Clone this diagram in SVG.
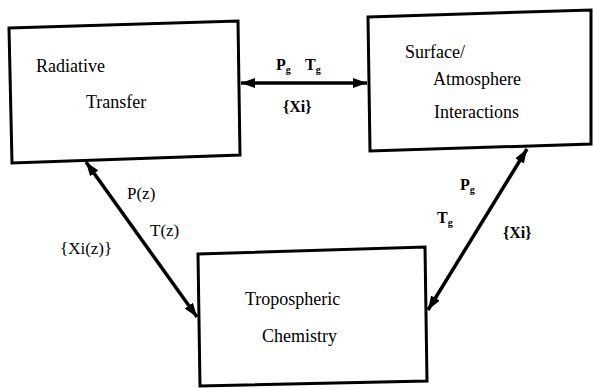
<svg xmlns="http://www.w3.org/2000/svg" width="593" height="388" viewBox="0 0 593 388">
<defs>
<marker id="ah" viewBox="0 0 14 10" refX="14" refY="5" markerWidth="14" markerHeight="10" markerUnits="userSpaceOnUse" orient="auto-start-reverse">
<path d="M0,0 L14,5 L0,10 Z" fill="#000"/>
</marker>
</defs>
<style>
.box{fill:#fff;stroke:#000;stroke-width:3;stroke-linejoin:miter}
text{font-family:'Liberation Serif','DejaVu Serif','Times New Roman',serif;fill:#000}
.t{font-size:18px}
.lb{font-size:16px;font-weight:bold}
.lr{font-size:17px}
.sub{font-size:10px}
.c{fill:none;stroke:#000;stroke-width:3.5}
</style>
<rect width="593" height="388" fill="#fff"/>
<g id="connectors">
<line class="c" x1="241" y1="83" x2="367" y2="83" marker-start="url(#ah)" marker-end="url(#ah)"/>
<line class="c" x1="86" y1="162" x2="197" y2="317" marker-start="url(#ah)" marker-end="url(#ah)"/>
<line class="c" x1="527" y1="149" x2="428" y2="310" marker-start="url(#ah)" marker-end="url(#ah)"/>
</g>
<g id="radiative">
<polygon class="box" points="9,28 238,21 240,155 12,163"/>
<text class="t" x="36" y="72">Radiative</text>
<text class="t" x="86" y="108">Transfer</text>
</g>
<g id="surface">
<polygon class="box" points="368,17 591,10 591,144 370,151"/>
<text class="t" x="405" y="58">Surface/</text>
<text class="t" x="433" y="85">Atmosphere</text>
<text class="t" x="434" y="118">Interactions</text>
</g>
<g id="tropospheric">
<polygon class="box" points="198,254 425,247 427,381 200,386"/>
<text class="t" x="245" y="305">Tropospheric</text>
<text class="t" x="262" y="342">Chemistry</text>
</g>
<g id="labels">
<text class="lb" x="276" y="70">P<tspan class="sub" dy="3">g</tspan></text>
<text class="lb" x="305" y="70">T<tspan class="sub" dy="3">g</tspan></text>
<text class="lb" x="283" y="112">{Xi}</text>
<text class="lr" x="127" y="199">P(z)</text>
<text class="lr" x="150" y="236">T(z)</text>
<text class="lr" x="60" y="254">{Xi(z)}</text>
<text class="lb" x="460" y="190">P<tspan class="sub" dy="3">g</tspan></text>
<text class="lb" x="437" y="223">T<tspan class="sub" dy="3">g</tspan></text>
<text class="lb" x="503" y="238">{Xi}</text>
</g>
</svg>
